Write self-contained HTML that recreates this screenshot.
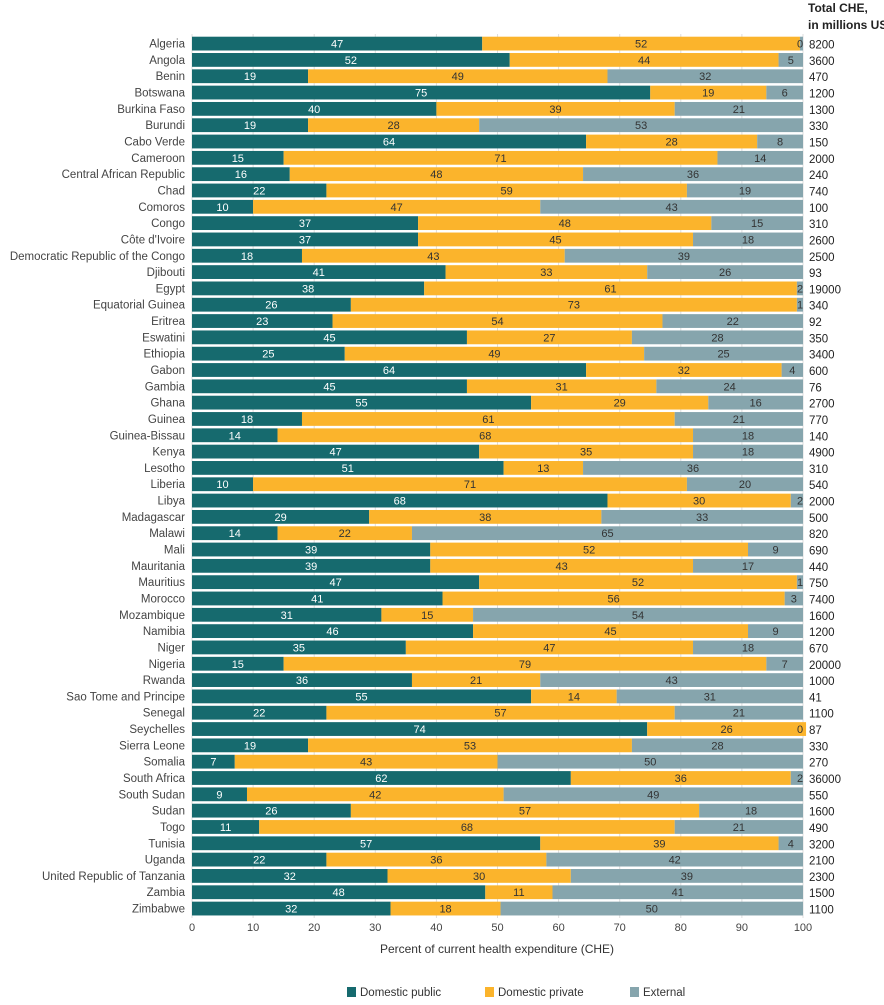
<!DOCTYPE html>
<html><head><meta charset="utf-8"><style>
body{margin:0;background:#fff;font-family:"Liberation Sans",sans-serif;}
svg text{font-family:"Liberation Sans",sans-serif;}
</style></head><body>
<svg id="chart" width="884" height="1000" viewBox="0 0 884 1000" xmlns="http://www.w3.org/2000/svg">
<g id="grid"></g>
<g id="bars"></g>
<g id="labels"></g>
<g id="totals"></g>
<g id="xaxis"></g>
<text x="808" y="12" font-size="12" font-weight="bold" fill="#222">Total CHE,</text>
<text x="808" y="29" font-size="12" font-weight="bold" fill="#222">in millions US</text>
<text x="497" y="953" font-size="12" text-anchor="middle" fill="#333">Percent of current health expenditure (CHE)</text>
<g>
<rect x="347" y="987" width="9" height="10" fill="#166a6e"/>
<text x="360" y="996" font-size="11.5" fill="#333">Domestic public</text>
<rect x="485" y="987" width="9" height="10" fill="#fbb42c"/>
<text x="498" y="996" font-size="11.5" fill="#333">Domestic private</text>
<rect x="630" y="987" width="9" height="10" fill="#86a5ad"/>
<text x="643" y="996" font-size="11.5" fill="#333">External</text>
</g>
</svg>
<script>
const countries=["Algeria","Angola","Benin","Botswana","Burkina Faso","Burundi","Cabo Verde","Cameroon","Central African Republic","Chad","Comoros","Congo","Côte d'Ivoire","Democratic Republic of the Congo","Djibouti","Egypt","Equatorial Guinea","Eritrea","Eswatini","Ethiopia","Gabon","Gambia","Ghana","Guinea","Guinea-Bissau","Kenya","Lesotho","Liberia","Libya","Madagascar","Malawi","Mali","Mauritania","Mauritius","Morocco","Mozambique","Namibia","Niger","Nigeria","Rwanda","Sao Tome and Principe","Senegal","Seychelles","Sierra Leone","Somalia","South Africa","South Sudan","Sudan","Togo","Tunisia","Uganda","United Republic of Tanzania","Zambia","Zimbabwe"];
const publicVals=[47.5,52,19,75,40,19,64.5,15,16,22,10,37,37,18,41.5,38,26,23,45,25,64.5,45,55.5,18,14,47,51,10,68,29,14,39,39,47,41,31,46,35,15,36,55.5,22,74.5,19,7,62,9,26,11,57,22,32,48,32.5];
const privateVals=[52,44,49,19,39,28,28,71,48,59,47,48,45,43,33,61,73,54,27,49,32,31,29,61,68,35,13,71,30,38,22,52,43,52,56,15,45,47,79,21,14,57,26,53,43,36,42,57,68,39,36,30,11,18];
const externalVals=[0,5,32,6,21,53,8,14,36,19,43,15,18,39,26,2,1,22,28,25,4,24,16,21,18,18,36,20,2,33,65,9,17,1,3,54,9,18,7,43,31,21,0,28,50,2,49,18,21,4,42,39,41,50];
const pubLabels=[47,52,19,75,40,19,64,15,16,22,10,37,37,18,41,38,26,23,45,25,64,45,55,18,14,47,51,10,68,29,14,39,39,47,41,31,46,35,15,36,55,22,74,19,7,62,9,26,11,57,22,32,48,32];
const totals=["8200","3600","470","1200","1300","330","150","2000","240","740","100","310","2600","2500","93","19000","340","92","350","3400","600","76","2700","770","140","4900","310","540","2000","500","820","690","440","750","7400","1600","1200","670","20000","1000","41","1100","87","330","270","36000","550","1600","490","3200","2100","2300","1500","1100"];
const xTicks=[0,10,20,30,40,50,60,70,80,90,100];
const NS="http://www.w3.org/2000/svg";
const X0=192,X1=803,Y0=36.7,PITCH=16.32,BH=13.8;
function x(v){return X0+(X1-X0)*v/100;}
function y(i){return Y0+i*PITCH;}
function mk(tag,attrs,parent){const e=document.createElementNS(NS,tag);for(const k in attrs)e.setAttribute(k,attrs[k]);parent.appendChild(e);return e;}
const grid=document.getElementById('grid'),bars=document.getElementById('bars'),labels=document.getElementById('labels'),tot=document.getElementById('totals'),xa=document.getElementById('xaxis');
xTicks.forEach(t=>{
 const l=mk('line',{x1:x(t),x2:x(t),y1:34,y2:918,stroke:'#ddd','stroke-width':1},grid);
 
 
 const tx=mk('text',{x:x(t),y:931,'font-size':11,'text-anchor':'middle',fill:'#444'},xa);
 tx.textContent=t;
 
 
});
const colors=['#166a6e','#fbb42c','#86a5ad'];
const txtCol=['#fff','#333','#333'];
countries.forEach((c,i)=>{
 const vals=[publicVals[i],privateVals[i],externalVals[i]];
 const labs=[pubLabels[i],privateVals[i],externalVals[i]];
 const names=['bar-public','bar-private','bar-external'];
 let acc=0;
 vals.forEach((v,k)=>{
  let w=v;
  if(k===2) w=Math.max(0,100-acc);
  const r=mk('rect',{x:x(acc),y:y(i),width:Math.max(0,x(acc+w)-x(acc)),height:BH,fill:colors[k]},bars);
  
  
  const cx=(k===2&&w<3)?x(100)-3:x(acc+w/2);
  const t=mk('text',{x:cx,y:y(i)+BH/2+4,'font-size':11,'text-anchor':'middle',fill:txtCol[k]},bars);
  t.textContent=labs[k];
  
  
  acc+=w;
 });
 const lt=mk('text',{x:185,y:y(i)+BH/2+4,'font-size':11.5,'text-anchor':'end',fill:'#444'},labels);
 lt.textContent=c;
 
 
 const tt=mk('text',{x:809,y:y(i)+BH/2+5,'font-size':11.5,fill:'#222'},tot);
 tt.textContent=totals[i];
 
 
});
</script>
</body></html>
